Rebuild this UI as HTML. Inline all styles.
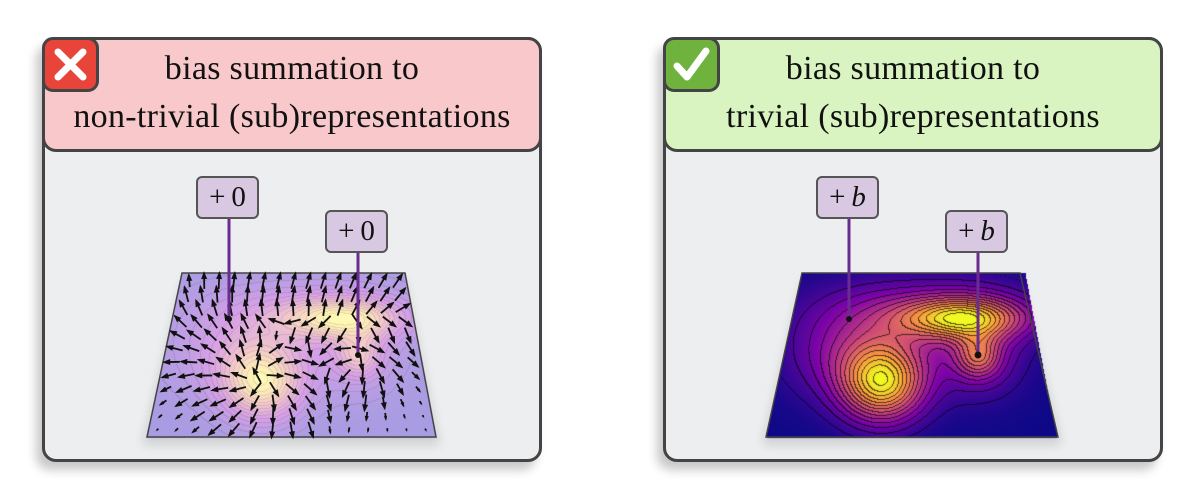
<!DOCTYPE html>
<html><head><meta charset="utf-8">
<style>
html,body{margin:0;padding:0;background:#fff;width:1200px;height:503px;overflow:hidden;position:relative;font-family:"Liberation Serif",serif}
.panel{position:absolute;top:37px;width:494px;height:419px;border:3px solid #444;border-radius:14px;background:#eceef0;box-shadow:-6px 8px 10px rgba(0,0,0,0.22)}
.hdr{position:absolute;left:-3px;top:-3px;width:494px;height:109px;border:3px solid #444;border-radius:14px;}
.hdr div{position:absolute;left:0;width:100%;text-align:center;font-size:34px;color:#111;letter-spacing:0.3px}
.icon{position:absolute;left:-3px;top:-3px;width:51px;height:49px;border:3px solid #444;border-radius:11px}
.lbl{position:absolute;width:59px;height:39px;border:2px solid #555;border-radius:6px;background:#d8c8e1;font-size:29px;text-align:center;line-height:39px;color:#111}
.lbl i{font-family:"Liberation Serif",serif}
</style></head><body>
<div class="panel" style="left:42px">
  <div class="hdr" style="background:#f8c8cb"><div style="top:10px">bias summation to</div><div style="top:58px">non-trivial (sub)representations</div></div>
  <div class="icon" style="background:#e8443a"><svg width="51" height="49"><path d="M13 12 L38 37 M38 12 L13 37" stroke="#fff" stroke-width="7" stroke-linecap="round"/></svg></div>
</div>
<div class="panel" style="left:663px">
  <div class="hdr" style="background:#daf4c1"><div style="top:10px">bias summation to</div><div style="top:58px">trivial (sub)representations</div></div>
  <div class="icon" style="background:#6fb23e"><svg width="51" height="49"><path d="M11 26 L21 37 L40 11" stroke="#fff" stroke-width="7" fill="none" stroke-linecap="round" stroke-linejoin="round"/></svg></div>
</div>
<svg style="position:absolute;left:0;top:0" width="1200" height="503">
 <defs><filter id="bl"><feGaussianBlur stdDeviation="5"/></filter></defs>
 <polygon points="182,280 405,280 440,445 142,445" fill="#000" opacity="0.12" filter="url(#bl)"/>
 <polygon points="802,280 1020,280 1062,445 762,445" fill="#000" opacity="0.12" filter="url(#bl)"/>
 <polygon points="182,273 405,273 436,437 147,437" fill="#b497e0"/>
 <polygon points="802,273 1020,273 1058,437 766,437" fill="#1a0890"/>
</svg>
<canvas id="cv" width="1200" height="503" style="position:absolute;left:0;top:0"></canvas>
<svg style="position:absolute;left:0;top:0" width="1200" height="503">
 <polygon points="182,273 405,273 436,437 147,437" fill="none" stroke="#444" stroke-width="1.5"/>
 <polygon points="802,273 1020,273 1058,437 766,437" fill="none" stroke="#444" stroke-width="1.5"/>
 <g id="arrows"></g>
 <g stroke="#6a2c91" stroke-width="3">
  <line x1="229" y1="217" x2="229" y2="319"/><line x1="358" y1="252" x2="358" y2="355"/>
  <line x1="849" y1="217" x2="849" y2="319"/><line x1="978" y1="252" x2="978" y2="355"/>
 </g>
 <g fill="#111"><circle cx="229" cy="319" r="3"/><circle cx="358" cy="355" r="3"/><circle cx="849" cy="319" r="3"/><circle cx="978" cy="355" r="3.5"/></g>
</svg>
<div class="lbl" style="left:196px;top:176px">+&#8201;0</div>
<div class="lbl" style="left:325px;top:210px">+&#8201;0</div>
<div class="lbl" style="left:816px;top:176px">+&#8201;<i>b</i></div>
<div class="lbl" style="left:945px;top:210px">+&#8201;<i>b</i></div>
<script>
(function(){
var G=[[262,383,28,26,0.9],[340,318,42,14,0.8],[358,356,15,15,0.45],[240,352,50,34,0.35],[310,308,75,24,0.25],[360,352,32,32,0.25]];
function f(x,y){var s=0;for(var i=0;i<G.length;i++){var g=G[i];var dx=(x-g[0])/g[2],dy=(y-g[1])/g[3];s+=g[4]*Math.exp(-0.5*(dx*dx+dy*dy));}return Math.min(s/1.12,1);}
function inside(x,y){if(y<273||y>437)return false;var t=(y-273)/164;var l=182+(147-182)*t,r=405+(436-405)*t;return x>=l&&x<=r;}
var P=[[0,[13,8,135]],[0.25,[126,3,168]],[0.5,[204,71,120]],[0.75,[248,149,64]],[1,[240,249,33]]];
var L=[[0,[168,156,226]],[0.35,[215,160,230]],[0.7,[245,205,200]],[1,[255,248,180]]];
function cm(m,v){for(var i=1;i<m.length;i++){if(v<=m[i][0]){var a=m[i-1],b=m[i],t=(v-a[0])/(b[0]-a[0]);return [0,1,2].map(function(k){return a[1][k]+(b[1][k]-a[1][k])*t;});}}return m[m.length-1][1];}
var c=document.getElementById('cv').getContext('2d');
var img=c.createImageData(1200,503);var d=img.data;
var step=0.07;
for(var y=273;y<=437;y++)for(var x=140;x<=437;x++){if(!inside(x,y))continue;
 var v=f(x,y),lv=Math.floor(v/step),line=(Math.floor(f(x+1,y)/step)!=lv)||(Math.floor(f(x,y+1)/step)!=lv);
 var a=cm(L,v);var i=(y*1200+x)*4;
 if(line){a=a.map(function(q){return q*0.9;});}
 d[i]=a[0];d[i+1]=a[1];d[i+2]=a[2];d[i+3]=255;
 var b=cm(P,v);var xr=x+620;
 var j=(y*1200+xr)*4;if(line&&lv>0)b=b.map(function(q){return q*0.35;});d[j]=b[0];d[j+1]=b[1];d[j+2]=b[2];d[j+3]=255;
}
c.putImageData(img,0,0);
var s='';
for(var r=0;r<12;r++)for(var k=0;k<15;k++){
 var y=281+r*13.5;var t=(y-273)/164;var l=182+(147-182)*t,rr=405+(436-405)*t;var x=l+9+(rr-l-18)*k/14;
 var gx=(f(x+2,y)-f(x-2,y))/4,gy=(f(x,y+2)-f(x,y-2))/4;var m=Math.sqrt(gx*gx+gy*gy);if(m<1e-6)continue;
 var ang=Math.atan2(-gy,-gx)+0.3;var len=Math.min(16,m*4000);if(len<2)len=2;
 var ex=x+Math.cos(ang)*len/2,ey=y+Math.sin(ang)*len/2,sx=x-Math.cos(ang)*len/2,sy=y-Math.sin(ang)*len/2;
 var h=Math.min(6,len*0.5),ca=Math.cos(ang),sa=Math.sin(ang);
 s+='<line x1="'+sx+'" y1="'+sy+'" x2="'+ex+'" y2="'+ey+'" stroke="#111" stroke-width="1.8"/>';
 s+='<polygon fill="#111" points="'+(ex+ca*2)+','+(ey+sa*2)+' '+(ex-ca*h-sa*h*0.5)+','+(ey-sa*h+ca*h*0.5)+' '+(ex-ca*h+sa*h*0.5)+','+(ey-sa*h-ca*h*0.5)+'"/>';
}
document.getElementById('arrows').innerHTML=s;
})();
</script>
</body></html>
